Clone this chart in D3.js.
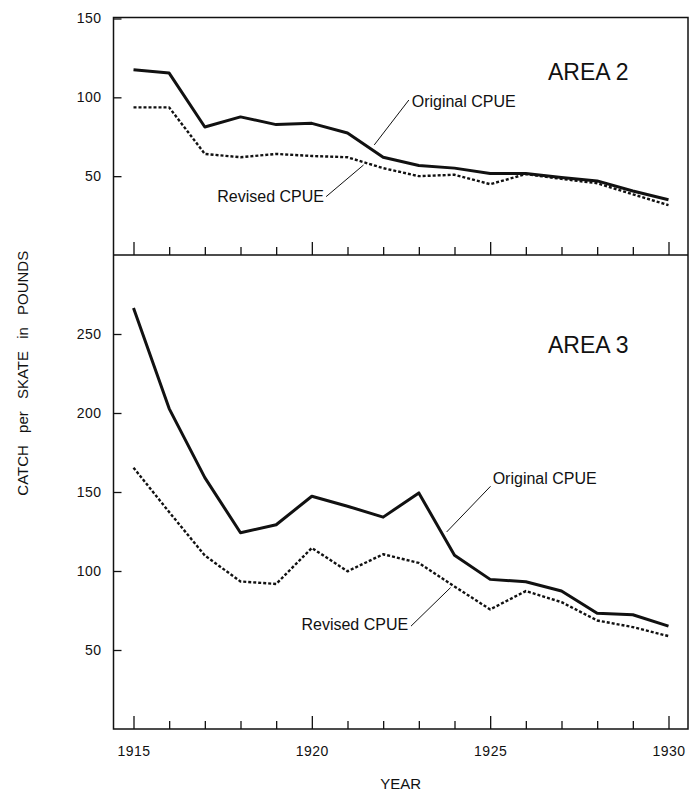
<!DOCTYPE html>
<html><head><meta charset="utf-8">
<script src="https://cdn.jsdelivr.net/npm/d3@7"></script>
<style>
html,body{margin:0;padding:0;background:#fff;}
svg{display:block;}
text{font-family:"Liberation Sans",Arial,sans-serif;fill:#111;}
</style></head>
<body>
<svg id="chart" width="690" height="794"></svg>
<script>
const years = [1915,1916,1917,1918,1919,1920,1921,1922,1923,1924,1925,1926,1927,1928,1929,1930];
const area2Original = [117.5,115.4,81.2,87.6,82.7,83.5,77.4,62,56.8,55.1,51.7,51.7,49.1,47,40.6,35];
const area2Revised  = [93.6,93.6,64.1,62,64.1,62.8,62,55.1,50,50.9,44.9,51.3,48.3,45.5,38.5,31.6];
const area3Original = [266.5,202.8,159.1,124.2,129.3,147.3,141,134.1,149.4,110,94.7,93.2,87.3,73.2,72.3,65.1];
const area3Revised  = [165.4,137.3,109.8,93.4,91.8,114.6,99.8,110.6,105.1,90.2,75.7,87.3,80.3,68.7,64.5,58.8];
const area2Ticks = [50,100,150];
const area3Ticks = [50,100,150,200,250];
const yearLabels = [1915,1920,1925,1930];
const seriesLabels = ["Original CPUE","Revised CPUE"];
const panelTitles = ["AREA 2","AREA 3"];
const yTitle = "CATCH per SKATE in POUNDS";
const xTitle = "YEAR";

const svg = d3.select("#chart");
const L = 113.5, R = 688, T = 17.5, MID = 255, B = 729;

const x = d3.scaleLinear().domain([1915,1930]).range([133.5,668.5]);
const yTop = d3.scaleLinear().domain([0,150]).range([255,18.5]);
const yBot = d3.scaleLinear().domain([0,300]).range([729,255]);

svg.append("rect").attr("x",L).attr("y",T).attr("width",R-L).attr("height",B-T)
  .attr("fill","none").attr("stroke","#111").attr("stroke-width",1.5);
svg.append("line").attr("x1",L).attr("x2",R).attr("y1",MID).attr("y2",MID)
  .attr("stroke","#111").attr("stroke-width",1.5);

function styleAxis(g){
  g.select(".domain").remove();
  g.selectAll(".tick line").attr("stroke","#111").attr("stroke-width",1.3);
  g.selectAll(".tick text").style("font-size","14px").style("letter-spacing","0.5px").attr("fill","#111");
}

svg.append("g").attr("transform",`translate(${L},0)`)
  .call(d3.axisLeft(yTop).tickValues(area2Ticks).tickSizeInner(-8).tickSizeOuter(0).tickPadding(12).tickFormat(d3.format("d")))
  .call(styleAxis);
svg.append("g").attr("transform",`translate(${L},0)`)
  .call(d3.axisLeft(yBot).tickValues(area3Ticks).tickSizeInner(-8).tickSizeOuter(0).tickPadding(12).tickFormat(d3.format("d")))
  .call(styleAxis);

[MID,B].forEach((yy,i)=>{
  svg.append("g").attr("transform",`translate(0,${yy})`)
    .call(d3.axisBottom(x).tickValues(years.filter(v=>!yearLabels.includes(v))).tickSizeInner(-8).tickSizeOuter(0).tickFormat(""))
    .call(styleAxis);
  svg.append("g").attr("transform",`translate(0,${yy})`)
    .call(d3.axisBottom(x).tickValues(yearLabels).tickSizeInner(-13).tickSizeOuter(0).tickPadding(17)
      .tickFormat(i===1?d3.format("d"):()=>""))
    .call(styleAxis);
});

function drawLine(vals, yScale, dashed){
  const line = d3.line().x((d,i)=>x(years[i])).y(d=>yScale(d));
  svg.append("path").datum(vals).attr("d",line).attr("fill","none")
    .attr("stroke","#111")
    .attr("stroke-width",dashed?2.4:3)
    .attr("stroke-dasharray",dashed?"3,2":null)
    .attr("stroke-linejoin","round");
}
drawLine(area2Revised,yTop,true);
drawLine(area2Original,yTop,false);
drawLine(area3Revised,yBot,true);
drawLine(area3Original,yBot,false);

const annots = [
  {ys:yTop, label:seriesLabels[0], tx:1922.8, tv:97.5, anchor:"start", l1:[1922.72,98.3], l2:[1921.75,69.8]},
  {ys:yTop, label:seriesLabels[1], tx:1920.34, tv:37, anchor:"end", l1:[1920.4,37], l2:[1921.45,57.1]},
  {ys:yBot, label:seriesLabels[0], tx:1925.07, tv:158.5, anchor:"start", l1:[1925.01,153.6], l2:[1923.78,124.7]},
  {ys:yBot, label:seriesLabels[1], tx:1922.7, tv:66.1, anchor:"end", l1:[1922.78,65.1], l2:[1923.89,89.5]}
];
annots.forEach(a=>{
  svg.append("text").attr("x",x(a.tx)).attr("y",a.ys(a.tv)).attr("dominant-baseline","central")
    .attr("text-anchor",a.anchor).style("font-size","16px").text(a.label);
  svg.append("line").attr("x1",x(a.l1[0])).attr("y1",a.ys(a.l1[1]))
    .attr("x2",x(a.l2[0])).attr("y2",a.ys(a.l2[1])).attr("stroke","#111").attr("stroke-width",1);
});

svg.append("text").attr("x",x(1926.62)).attr("y",yTop(116.3)).attr("dominant-baseline","central")
  .style("font-size","23px").text(panelTitles[0]);
svg.append("text").attr("x",x(1926.62)).attr("y",yBot(243.2)).attr("dominant-baseline","central")
  .style("font-size","23px").text(panelTitles[1]);

svg.append("text").attr("x",(L+R)/2).attr("y",783).attr("text-anchor","middle")
  .attr("dominant-baseline","central").style("font-size","15px").text(xTitle);
svg.append("text").attr("transform",`translate(22,${(T+B)/2}) rotate(-90)`)
  .attr("text-anchor","middle").attr("dominant-baseline","central")
  .style("font-size","15px").style("word-spacing","8px").text(yTitle);
</script>
</body></html>
